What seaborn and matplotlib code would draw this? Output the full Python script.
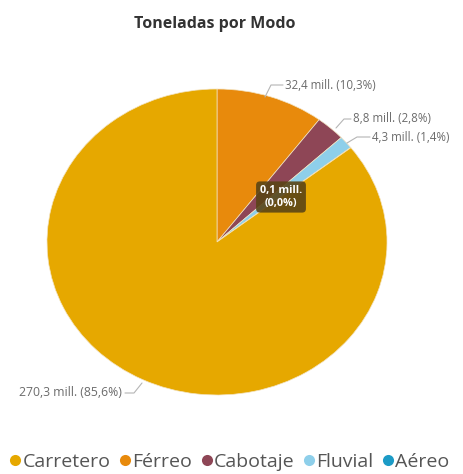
import matplotlib
matplotlib.use("Agg")
import matplotlib.pyplot as plt
import seaborn as sns
from matplotlib.lines import Line2D

sns.set_theme(style="white")
plt.rcParams['font.family'] = ['Open Sans', 'DejaVu Sans']

# datos (millones de toneladas)
modos = ['Carretero', 'Férreo', 'Cabotaje', 'Fluvial', 'Aéreo']
toneladas = [270.3, 32.4, 8.8, 4.3, 0.1]
colores = ['#E6A800', '#E88A0C', '#8E4656', '#8ECFEA', '#1C9BC6']

# orden de dibujo desde las 12 en sentido horario (Carretero al final)
orden = [1, 2, 3, 4, 0]

W, H = 463, 474
CX, CY, RX, RY = 217, 242, 170, 153

def d(px, py):
    # pixeles de la imagen -> coordenadas de datos
    return (px - CX) / RX, (CY - py) / RY

fig = plt.figure(figsize=(W / 100, H / 100), dpi=100)
ax = fig.add_axes([0, 0, 1, 1])
ax.pie([toneladas[i] for i in orden], colors=[colores[i] for i in orden],
       startangle=90, counterclock=False, radius=1,
       wedgeprops=dict(linewidth=0.5, edgecolor='#f3e3c0'))
ax.set_aspect('auto')
ax.set_xlim(d(0, 0)[0], d(W, 0)[0])
ax.set_ylim(d(0, H)[1], d(0, 0)[1])
ax.axis('off')

total = sum(toneladas)

def coma(x):
    return f"{x:.1f}".replace('.', ',')

def etiqueta(i, sep=' '):
    v = toneladas[i]
    return f"{coma(v)} mill.{sep}({coma(v / total * 100)}%)"

gris = '#6b6b6b'
linea = '#b5b5b5'

# etiquetas externas: (indice, puntos de la guía, posición del texto)
externas = [
    (1, [(265, 97), (271, 85), (283, 85)], (285, 86)),
    (2, [(336, 128), (344, 119), (351, 119)], (353, 119)),
    (3, [(347, 143), (357, 137), (370, 137)], (372, 138)),
]
for i, pts, (tx, ty) in externas:
    xs, ys = zip(*[d(*p) for p in pts])
    ax.plot(xs, ys, color=linea, lw=0.8)
    ax.text(*d(tx, ty), etiqueta(i), color=gris, fontsize=8.3, ha='left', va='center')

# Carretero abajo a la izquierda
pts = [(142, 383), (134, 393), (125, 393)]
xs, ys = zip(*[d(*p) for p in pts])
ax.plot(xs, ys, color=linea, lw=0.8)
ax.text(*d(122, 393), etiqueta(0), color=gris, fontsize=8.8, ha='right', va='center')

# Aéreo dentro de la caja oscura
ax.text(*d(281, 197), etiqueta(4, '\n'), color='white', fontsize=7.8, fontweight='bold',
        ha='center', va='center', linespacing=1.2,
        bbox=dict(boxstyle='round,pad=0.35', fc='#5a4416', ec='none', alpha=0.9))

fig.text(215 / W, 1 - 24 / H, 'Toneladas por Modo', ha='center', va='center',
         fontsize=11.5, fontweight='bold', color='#333333')

handles = [Line2D([0], [0], marker='o', color='none', markerfacecolor=c,
                  markeredgecolor='none', markersize=8) for c in colores]
fig.legend(handles, modos, loc='center', bbox_to_anchor=(230 / W, 1 - 462 / H),
           ncol=5, frameon=False, handlelength=0.5, handletextpad=0.12,
           columnspacing=0.5, fontsize=14, labelcolor='#555555')

fig.savefig('out.png', dpi=100)
